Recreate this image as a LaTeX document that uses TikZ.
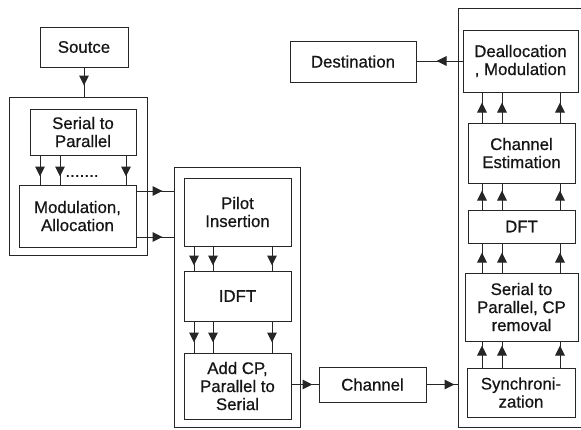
\documentclass[tikz,border=0pt]{standalone}
\usepackage{fontspec}
\setmainfont{Liberation Sans}
\newfontfamily\boxfont{Liberation Sans}[FakeBold=0.6]
\usetikzlibrary{arrows.meta,calc}
\definecolor{linec}{HTML}{262626}
\definecolor{txt}{HTML}{151515}
\begin{document}
\begin{tikzpicture}[x=1pt,y=-1pt,
  box/.style={draw=linec, line width=1pt, align=center, inner sep=0pt, text=txt,
    font=\boxfont\fontsize{16.8}{18}\selectfont},
  grp/.style={draw=linec, line width=0.9pt, inner sep=0pt},
  arr/.style={draw=linec, line width=1pt,
    postaction={draw=linec, -{Triangle[length=10pt,width=9.5pt]}, shorten >=#1}},
  arr/.default=8pt
]
\fill[white] (0,0) rectangle (581,429);
\useasboundingbox (0,0) rectangle (581,429);

% groups
\node[grp, minimum width=138, minimum height=158] (g1) at (78,176) {};
\node[grp, minimum width=126, minimum height=260] (g2) at (237,297) {};
\node[grp, minimum width=126, minimum height=419] (g3) at (521,217.5) {};

% transmitter
\node[box, minimum width=88, minimum height=40] (src) at (84,47) {Soutce};
\node[box, minimum width=106, minimum height=46] (s2p) at (83,132) {Serial to\\Parallel};
\node[box, minimum width=117, minimum height=62] (mod) at (77.5,216) {Modulation,\\Allocation};
\node[text=txt, font=\boxfont\fontsize{17}{18}\selectfont, inner sep=0pt] (dots) at (82,176) {.......};

\node[box, minimum width=107, minimum height=68] (pilot) at (237.5,212) {Pilot\\Insertion};
\node[box, minimum width=107, minimum height=50] (idft) at (237.5,296) {IDFT};
\node[box, minimum width=107, minimum height=66] (addcp) at (237.5,386) {Add CP,\\Parallel to\\Serial};

\node[box, minimum width=107, minimum height=35] (ch) at (372.5,384.5) {Channel};

% receiver
\node[box, minimum width=126, minimum height=41] (dest) at (353,61.5) {Destination};
\node[box, minimum width=115, minimum height=62] (dealloc) at (520.5,61) {Deallocation\\, Modulation};
\node[box, minimum width=107, minimum height=60] (chest) at (521.5,153) {Channel\\Estimation};
\node[box, minimum width=107, minimum height=33] (dft) at (521.5,226.5) {DFT};
\node[box, minimum width=113, minimum height=68] (s2pcp) at (521.5,307) {Serial to\\Parallel, CP\\removal};
\node[box, minimum width=108, minimum height=49] (sync) at (521,392.5) {Synchroni-\\zation};

% helper coordinates
\coordinate (a1) at (40,0);
\coordinate (a2) at (60,0);
\coordinate (a3) at (126,0);
\coordinate (b1) at (194,0);
\coordinate (b2) at (213,0);
\coordinate (b3) at (272,0);
\coordinate (c1) at (482,0);
\coordinate (c2) at (502,0);
\coordinate (c3) at (560,0);
\coordinate (m1) at (0,191);
\coordinate (m2) at (0,237);

% connectors
\draw[arr=11pt] (src.south) -- (src.south |- g1.north);
\foreach \c in {a1,a2,a3} \draw[arr=8pt] (s2p.south -| \c) -- (mod.north -| \c);
\foreach \m in {m1,m2} \draw[arr=11pt] (mod.east |- \m) -- (g2.west |- \m);
\foreach \c in {b1,b2,b3} \draw[arr=5pt] (pilot.south -| \c) -- (idft.north -| \c);
\foreach \c in {b1,b2,b3} \draw[arr=10pt] (idft.south -| \c) -- (addcp.north -| \c);
\draw[arr=6pt] (ch.west -| addcp.east) -- (ch.west);
\draw[arr=3pt] (ch.east) -- (ch.east -| g3.west);
\draw[arr=20pt] (dealloc.west) -- (dealloc.west -| dest.east);
\foreach \c in {c1,c2,c3} \draw[arr=10pt] (chest.north -| \c) -- (dealloc.south -| \c);
\foreach \c in {c1,c2,c3} \draw[arr=7pt] (dft.north -| \c) -- (chest.south -| \c);
\foreach \c in {c1,c2,c3} \draw[arr=9pt] (s2pcp.north -| \c) -- (dft.south -| \c);
\foreach \c in {c1,c2,c3} \draw[arr=4pt] (sync.north -| \c) -- (s2pcp.south -| \c);
\end{tikzpicture}
\end{document}
